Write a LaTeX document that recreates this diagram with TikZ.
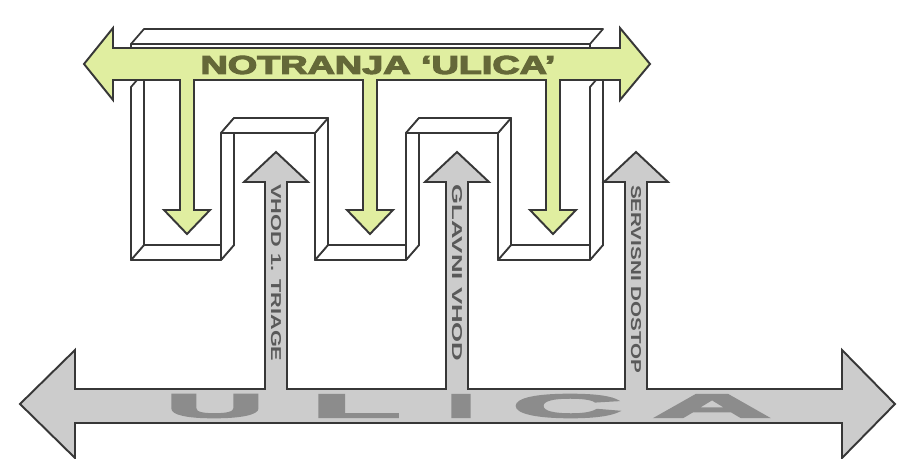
\documentclass[tikz,border=0pt]{standalone}
\usepackage{fontspec}
\setmainfont{Liberation Sans}
\newfontfamily\heavyfont[UprightFont={* Bold}, FakeBold=4]{Liberation Sans}
\definecolor{streetgrey}{RGB}{204,204,204}
\definecolor{streettext}{RGB}{140,140,140}
\definecolor{innergreen}{RGB}{224,238,160}
\definecolor{innertext}{RGB}{100,104,56}
\definecolor{edgegrey}{RGB}{55,55,55}
\begin{document}
\begin{tikzpicture}[x=0.02cm, y=-0.02cm,
  wallface/.style={fill=white, draw=edgegrey, line width=1pt, line join=round},
  arrowshape/.style={draw=edgegrey, line width=1.1pt, line join=miter}]
\useasboundingbox (0,0) rectangle (900,459);

% Top bar of the building
\filldraw[wallface] (131,44) rectangle (590,80);
\filldraw[wallface] (131,44) -- (590,44) -- ++(13,-15) -- (144,29) -- cycle;

% Floors, walls and bridges of the meander
\foreach \xa/\xb in {131/221, 315/406, 498/590}
  \filldraw[wallface] (\xa,260) -- (\xb,260) -- ++(13,-15) -- (\xa+13,245) -- cycle;
\foreach \xa/\ya in {131/87, 221/133, 315/133, 406/133, 498/133, 590/87}
  \filldraw[wallface] (\xa,\ya) -- (\xa,260) -- ++(13,-15) -- (\xa+13,\ya-15) -- cycle;
\foreach \xa/\xb in {221/315, 406/498}
  \filldraw[wallface] (\xa,133) -- (\xb,133) -- ++(13,-15) -- (\xa+13,118) -- cycle;

% Street with the three entrances
\filldraw[arrowshape, fill=streetgrey] (20,404) -- (75,350) -- (75,389)
  \foreach \c in {276,457,636} {
    -- (\c-11,389) -- (\c-11,182) -- (\c-32,182) -- (\c,152)
    -- (\c+32,182) -- (\c+11,182) -- (\c+11,389) }
  -- (842,389) -- (842,350) -- (895,404) -- (842,458) -- (842,423)
  -- (75,423) -- (75,458) -- cycle;

% Inner street with its three branches
\filldraw[arrowshape, fill=innergreen] (84,64) -- (113,28) -- (113,48) -- (620,48)
  -- (620,28) -- (650,64) -- (620,100) -- (620,80)
  \foreach \c in {553,370,187} {
    -- (\c+7,80) -- (\c+7,210) -- (\c+23,210) -- (\c,234)
    -- (\c-23,210) -- (\c-7,210) -- (\c-7,80) }
  -- (113,80) -- (113,100) -- cycle;

% Labels
\node[text=innertext] (inner) at (378,65) {\resizebox{7.1cm}{0.36cm}{\heavyfont NOTRANJA ‘ULICA’}};
\foreach \ch/\cx/\cw in {U/215/1.96, L/356/1.78, I/461/0.58, C/567/2.18, A/712/2.34}
  \node[text=streettext] (street-\ch) at (\cx,406) {\resizebox{\cw cm}{0.46cm}{\heavyfont \ch}};
\node[rotate=-90, text=black!65] (entry-triage) at (276,273) {\resizebox{3.54cm}{0.2cm}{\bfseries VHOD 1. TRIAGE}};
\node[rotate=-90, text=black!65] (entry-main) at (457,273) {\resizebox{3.54cm}{0.2cm}{\bfseries GLAVNI VHOD}};
\node[rotate=-90, text=black!65] (entry-service) at (636,279) {\resizebox{3.76cm}{0.2cm}{\bfseries SERVISNI DOSTOP}};
\end{tikzpicture}
\end{document}
